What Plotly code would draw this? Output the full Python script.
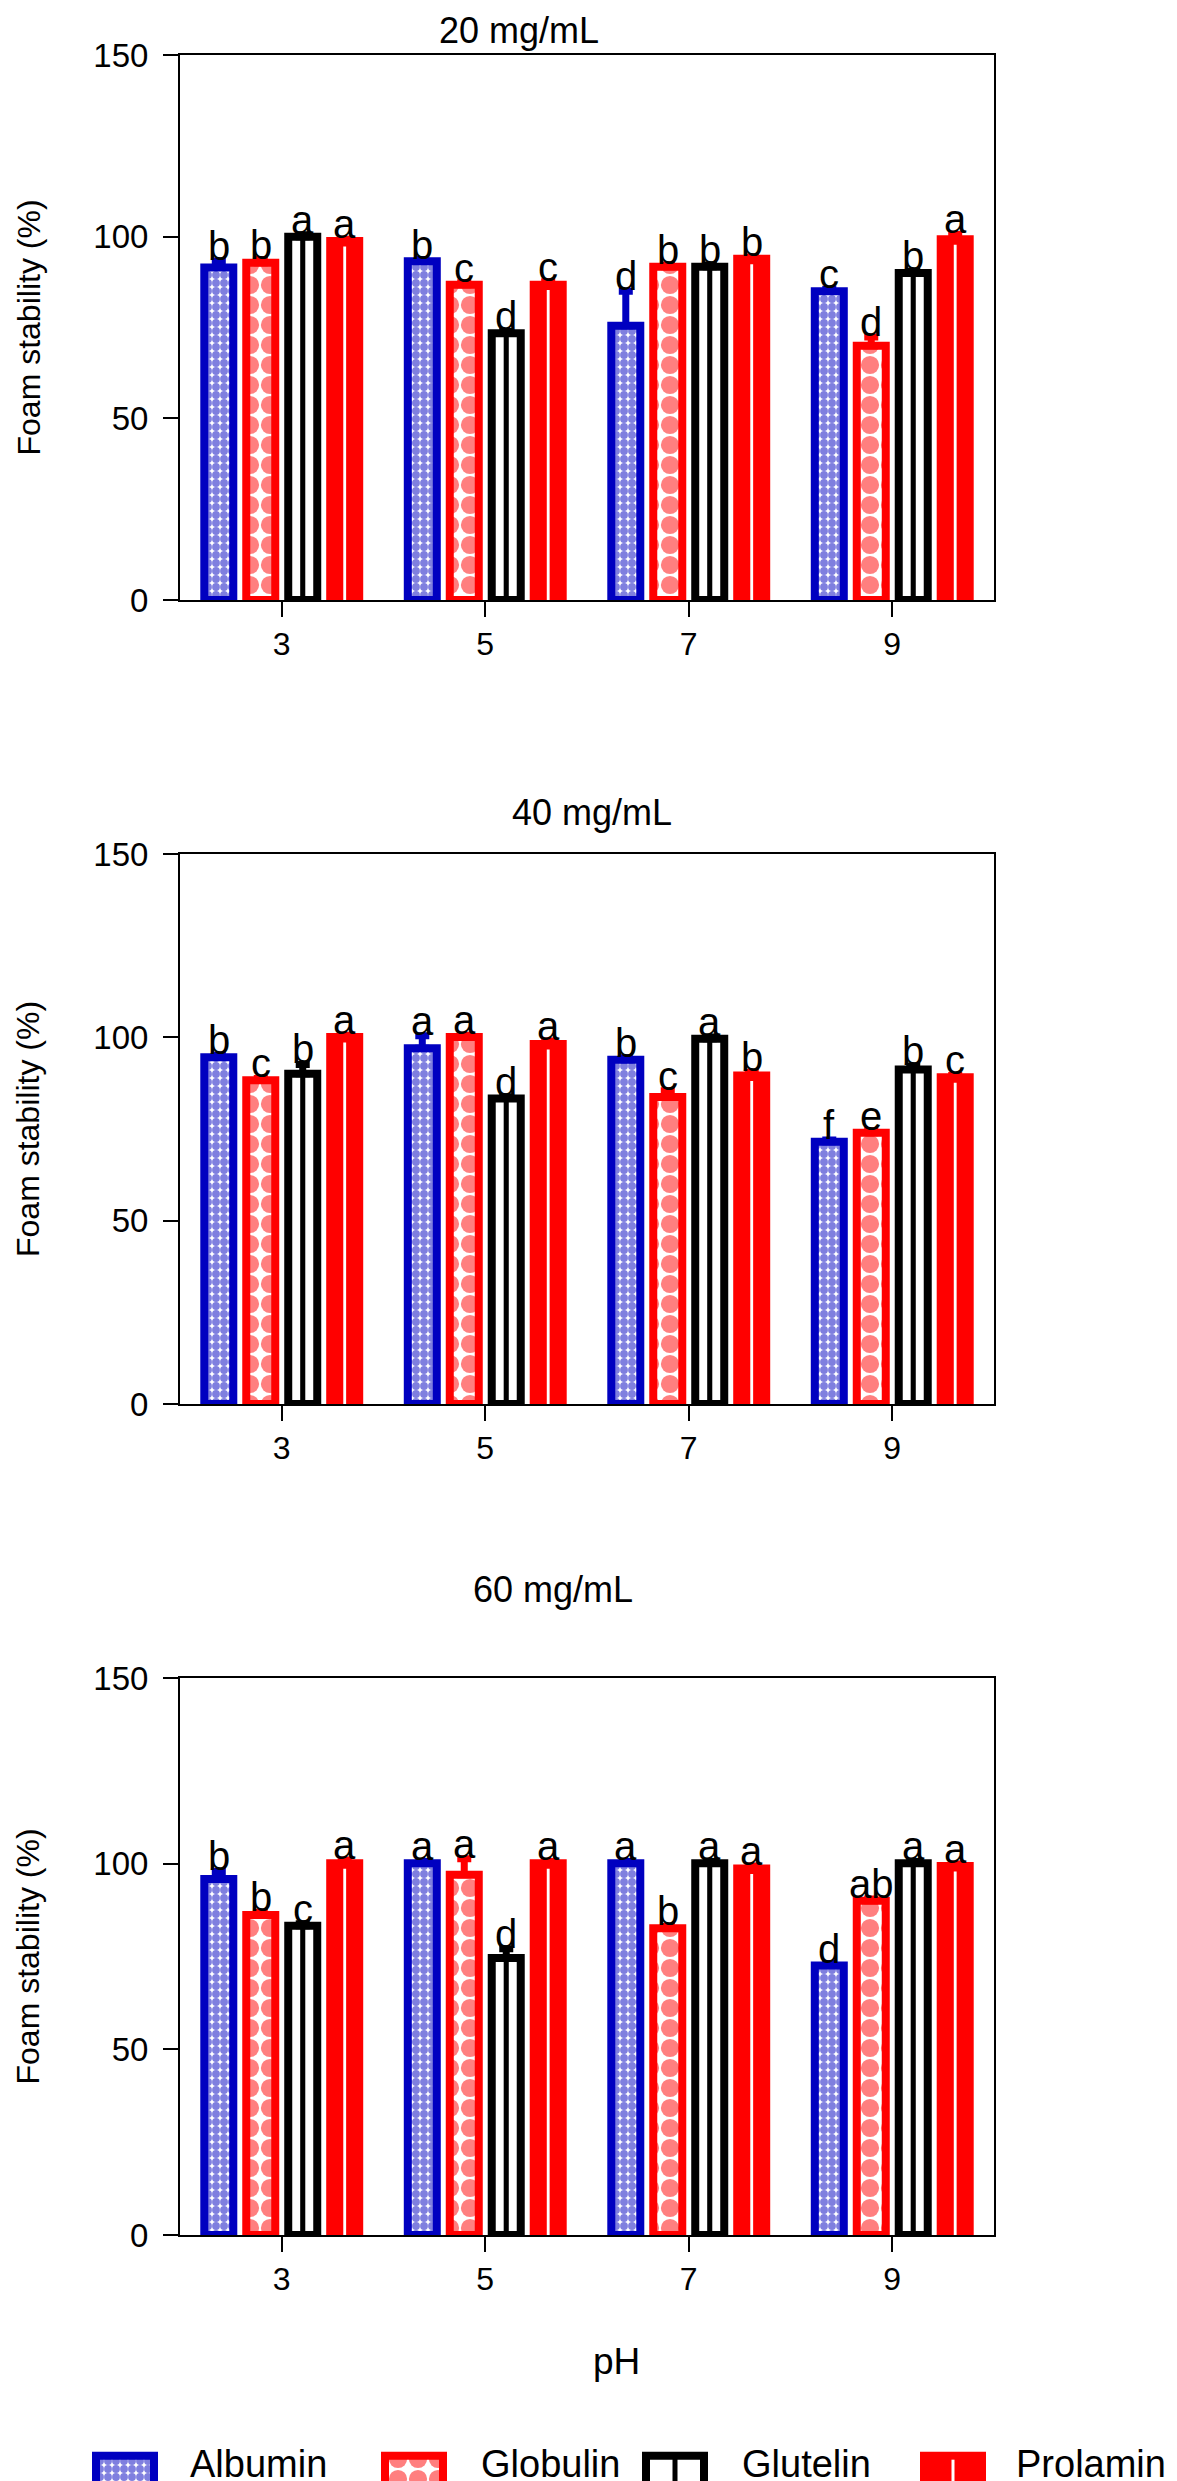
import plotly.graph_objects as go

PH = [3, 5, 7, 9]
PROTEINS = ["Albumin", "Globulin", "Glutelin", "Prolamin"]
PANEL_TITLES = ["20 mg/mL", "40 mg/mL", "60 mg/mL"]

# foam stability (%), rows = Albumin, Globulin, Glutelin, Prolamin; cols = pH 3, 5, 7, 9
FS_20 = [
    [91.5, 93.2, 75.5, 85.0],
    [92.8, 86.8, 91.7, 70.0],
    [100.0, 73.4, 91.7, 90.0],
    [98.8, 86.8, 93.9, 99.3],
]
SD_20 = [
    [1.8, 0.5, 9.5, 0.5],
    [0.9, 0.5, 0.5, 2.4],
    [0.5, 0.5, 0.5, 0.5],
    [0.5, 0.8, 0.5, 1.3],
]
LETTERS_20 = [
    ["b", "b", "d", "c"],
    ["b", "c", "b", "d"],
    ["a", "d", "b", "b"],
    ["a", "c", "b", "a"],
]

FS_40 = [
    [94.6, 97.0, 93.9, 71.5],
    [88.3, 100.1, 83.7, 74.0],
    [90.1, 83.3, 99.6, 91.2],
    [100.1, 98.2, 89.6, 89.1],
]
SD_40 = [
    [0.5, 3.4, 0.5, 0.5],
    [0.5, 0.5, 1.7, 0.5],
    [2.5, 0.5, 0.5, 1.0],
    [0.5, 0.8, 0.9, 0.5],
]
LETTERS_40 = [
    ["b", "a", "b", "f"],
    ["c", "a", "c", "e"],
    ["b", "d", "a", "b"],
    ["a", "a", "b", "c"],
]

FS_60 = [
    [95.9, 100.1, 100.1, 72.6],
    [86.2, 97.0, 82.6, 90.0],
    [83.3, 74.6, 100.1, 100.1],
    [100.1, 100.1, 98.7, 99.4],
]
SD_60 = [
    [2.0, 0.5, 0.5, 0.5],
    [0.7, 4.3, 0.5, 0.5],
    [0.5, 2.5, 0.5, 0.5],
    [0.9, 0.5, 0.7, 0.5],
]
LETTERS_60 = [
    ["b", "a", "a", "d"],
    ["b", "a", "b", "ab"],
    ["c", "d", "a", "a"],
    ["a", "a", "a", "a"],
]

PANELS = [(FS_20, SD_20, LETTERS_20), (FS_40, SD_40, LETTERS_40), (FS_60, SD_60, LETTERS_60)]

W, H = 1177, 2481
FONT = "Liberation Sans, Arial, sans-serif"
BLUE = "#0000C0"
RED = "#FF0000"
BLACK = "#000000"

X_LEFT, X_RIGHT = 172, 986
PANEL_TOP = [47, 846, 1670]
PANEL_BOTTOM = [592, 1396, 2227]
TITLE_X = [511, 584, 545]
TITLE_Y = [None, 804, 1581]   # first title hangs from the top edge

SLOT = 0.4125
BAR_W = 0.285
SHIFT = [(i - 1.5) * SLOT for i in range(4)]

EDGE = [BLUE, RED, BLACK, RED]
MARKERS = [
    dict(color=BLUE, line=dict(color=BLUE, width=8),
         pattern=dict(shape=".", fgcolor=BLUE, bgcolor="white", size=8, solidity=0.75)),
    dict(color=RED, line=dict(color=RED, width=8),
         pattern=dict(shape=".", fgcolor=RED, bgcolor="white", size=20, solidity=0.65)),
    dict(color="white", line=dict(color=BLACK, width=8)),
    dict(color=RED, line=dict(color=RED, width=8)),
]


def yfrac(p):
    return 1 - p / H


fig = go.Figure()

for k, (vals, sds, letters) in enumerate(PANELS):
    xa = "x" if k == 0 else f"x{k + 1}"
    ya = "y" if k == 0 else f"y{k + 1}"
    for i, name in enumerate(PROTEINS):
        fig.add_bar(
            x=PH, y=vals[i], name=name, xaxis=xa, yaxis=ya,
            offset=SHIFT[i] - BAR_W / 2, width=BAR_W,
            marker=MARKERS[i], showlegend=False,
            error_y=dict(type="data", array=sds[i], arrayminus=[0] * len(PH),
                         symmetric=False, color=EDGE[i], thickness=7, width=7),
        )
    # glutelin centre stripe and prolamin white line
    fig.add_bar(x=PH, y=vals[2], xaxis=xa, yaxis=ya, offset=SHIFT[2] - 0.025, width=0.05,
                marker=dict(color=BLACK, line=dict(width=0)), showlegend=False, hoverinfo="skip")
    fig.add_bar(x=PH, y=[v - 1.5 for v in vals[3]], xaxis=xa, yaxis=ya,
                offset=SHIFT[3] - 0.014, width=0.028,
                marker=dict(color="white", line=dict(width=0)), showlegend=False, hoverinfo="skip")

    for i in range(4):
        for j, p in enumerate(PH):
            fig.add_annotation(
                x=p + SHIFT[i], y=vals[i][j] + sds[i][j], xref=xa, yref=ya,
                text=letters[i][j], showarrow=False, xanchor="center", yanchor="bottom",
                yshift=-9, font=dict(family=FONT, size=40, color=BLACK),
            )

    axis_style = dict(showline=True, linewidth=2, linecolor=BLACK, mirror=True,
                      ticks="outside", ticklen=15, tickwidth=2, tickcolor=BLACK,
                      showgrid=False, zeroline=False, automargin=False)
    fig.update_layout({
        ("xaxis" if k == 0 else f"xaxis{k + 1}"): dict(
            domain=[X_LEFT / W, X_RIGHT / W], range=[2, 10], anchor=ya,
            tickvals=PH, ticktext=[str(p) for p in PH],
            tickfont=dict(family=FONT, size=32, color=BLACK),
            ticklabelstandoff=0, **axis_style),
        ("yaxis" if k == 0 else f"yaxis{k + 1}"): dict(
            domain=[yfrac(PANEL_BOTTOM[k]), yfrac(PANEL_TOP[k])], range=[0, 150], anchor=xa,
            tickvals=[0, 50, 100, 150], ticklabelstandoff=8,
            tickfont=dict(family=FONT, size=33, color=BLACK), **axis_style),
    })

    if TITLE_Y[k] is None:
        title_pos = dict(y=1, yanchor="top")
    else:
        title_pos = dict(y=yfrac(TITLE_Y[k]), yanchor="middle")
    fig.add_annotation(x=TITLE_X[k] / W, xref="paper", yref="paper", xanchor="center",
                       text=PANEL_TITLES[k], showarrow=False,
                       font=dict(family=FONT, size=36, color=BLACK), **title_pos)
    fig.add_annotation(x=20 / W, y=yfrac((PANEL_TOP[k] + PANEL_BOTTOM[k]) / 2),
                       xref="paper", yref="paper", xanchor="center", yanchor="middle",
                       text="Foam stability (%)", textangle=-90, showarrow=False,
                       font=dict(family=FONT, size=32, color=BLACK))

fig.add_annotation(x=608 / W, y=yfrac(2353), xref="paper", yref="paper", text="pH",
                   xanchor="center", yanchor="middle", showarrow=False,
                   font=dict(family=FONT, size=37, color=BLACK))

# legend row drawn as its own hidden axis
LEGEND_X = [117, 406, 667, 945]
LEGEND_TEXT_X = [180, 471, 732, 1006]
for i, name in enumerate(PROTEINS):
    fig.add_bar(x=[LEGEND_X[i]], y=[1], xaxis="x4", yaxis="y4", width=58,
                marker=MARKERS[i], showlegend=False, hoverinfo="skip")
    fig.add_annotation(x=LEGEND_TEXT_X[i] / W, y=yfrac(2479), xref="paper", yref="paper",
                       xanchor="left", yanchor="bottom", text=name, showarrow=False,
                       font=dict(family=FONT, size=38, color=BLACK))
fig.add_bar(x=[LEGEND_X[2]], y=[1], xaxis="x4", yaxis="y4", width=5,
            marker=dict(color=BLACK, line=dict(width=0)), showlegend=False, hoverinfo="skip")
fig.add_bar(x=[LEGEND_X[3]], y=[0.88], xaxis="x4", yaxis="y4", width=3,
            marker=dict(color="white", line=dict(width=0)), showlegend=False, hoverinfo="skip")

fig.update_layout(
    width=W, height=H,
    margin=dict(l=0, r=0, t=0, b=0),
    paper_bgcolor="white", plot_bgcolor="white",
    barmode="overlay",
    xaxis4=dict(domain=[0, 1], range=[0, W], visible=False, anchor="y4", automargin=False),
    yaxis4=dict(domain=[0, 40 / H], range=[0, 1.2], visible=False, anchor="x4", automargin=False),
)

fig.write_html("out.html")
